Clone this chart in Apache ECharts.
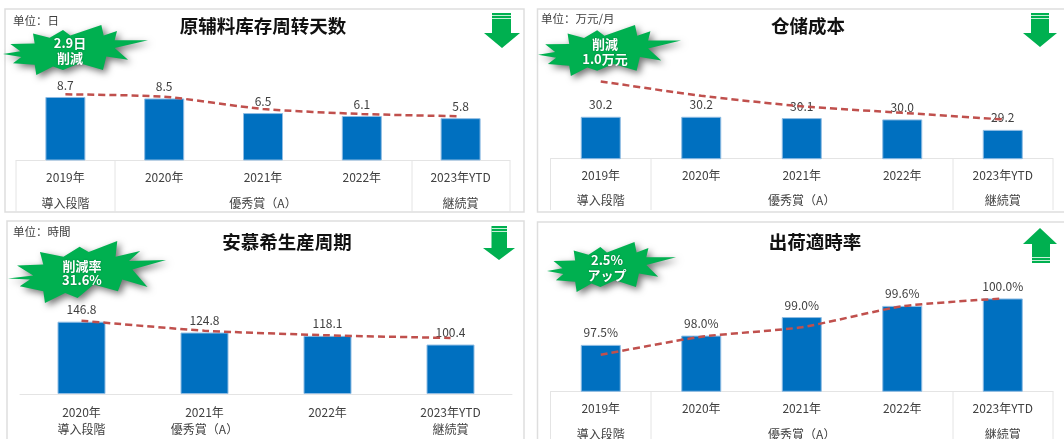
<!DOCTYPE html>
<html>
<head>
<meta charset="utf-8">
<style>html,body{margin:0;padding:0;background:#fff}#chart{width:1064px;height:439px}</style>
<script src="https://cdn.jsdelivr.net/npm/echarts@6/dist/echarts.min.js"></script>
</head>
<body>
<div id="chart"></div>
<script>
// Kaizen results board: four KPI panels, 2019–2023 YTD
const yearsFive = ['2019年', '2020年', '2021年', '2022年', '2023年YTD'];
const yearsFour = ['2020年', '2021年', '2022年', '2023年YTD'];
const stagesFive = ['導入段階', '', '優秀賞（A）', '', '継続賞'];
const stagesFour = ['導入段階', '優秀賞（A）', '', '継続賞'];

const inventoryDays = [8.7, 8.5, 6.5, 6.1, 5.8];
const inventoryTrend = [9.07, 8.74, 7.05, 6.37, 6.05];
const storageCost = [30.2, 30.2, 30.1, 30.0, 29.2];
const storageTrend = [32.9, 31.8, 31.0, 30.5, 30.0];
const cycleHours = [146.8, 124.8, 118.1, 100.4];
const cycleTrend = [148.8, 128.5, 119.2, 113.7];
const onTimeRate = [97.5, 98.0, 99.0, 99.6, 100.0];
const onTimeTrend = [96.97, 97.94, 98.45, 99.58, 100.0];

const CJK = '"Noto Sans CJK SC","Noto Sans CJK JP",sans-serif';
const INK = '#404040';
const GREEN = '#00b050';
const RULE = '#e4e4e4';
const FRAME = '#dedede';

// Badge outlines, normalised by their bounding boxes on use
const burst = [[10,103],[62,95],[32,73],[105,72],[100,42],[150,55],[190,32],[212,48],[305,17],[312,48],[352,35],[345,62],
  [445,62],[345,85],[385,120],[320,110],[310,150],[240,130],[190,150],[160,140],[110,165],[105,135],[40,130],[65,112]];
const burstWide = [[25,127],[100,118],[52,88],[130,85],[120,48],[190,62],[238,32],[265,48],[350,15],[345,62],[418,45],[385,75],
  [495,72],[395,100],[440,152],[365,130],[352,165],[280,145],[232,185],[195,170],[135,200],[130,165],[60,150],[90,130]];

const panels = [
  { title: '原辅料库存周转天数', titleX: 263, titleY: 26, unit: '单位：日', unitX: 13, unitY: 21,
    frame: [5, 9, 519, 203],
    x: 16, w: 494, base: 160.5, h: 102.2, min: 0, max: 14, barW: 40, lh: 26, labelMargin: 4,
    cats: yearsFive, stages: stagesFive, bars: inventoryDays, trend: inventoryTrend, suffix: '',
    table: { dividers: [115, 412], bottom: 212 },
    outline: burst, star: [3, 25, 148, 75], starText: ['2.9日', '削減'], starX: 70, starY: [43, 58],
    arrow: { dir: 'down', x0: 484, x1: 520, s0: 492, s1: 511, flat: 13, head: 33, tip: 48 } },
  { title: '仓储成本', titleX: 808, titleY: 26, unit: '单位：万元/月', unitX: 541, unitY: 19,
    frame: [537.5, 9, 535, 203],
    x: 550.5, w: 502.5, base: 158.7, h: 104.8, min: 27, max: 35, barW: 40, lh: 25, labelMargin: 4,
    cats: yearsFive, stages: stagesFive, bars: storageCost, trend: storageTrend, suffix: '',
    table: { dividers: [651, 953], bottom: 210 },
    outline: burst, star: [538, 25, 681, 76], starText: ['削減', '1.0万元'], starX: 605, starY: [44, 59],
    arrow: { dir: 'down', x0: 1023, x1: 1057, s0: 1031, s1: 1049, flat: 13, head: 33, tip: 47 } },
  { title: '安慕希生産周期', titleX: 287, titleY: 242, unit: '单位：時間', unitX: 13, unitY: 232,
    frame: [7, 221, 517, 230],
    x: 20, w: 492, base: 394, h: 98.5, min: 0, max: 200, barW: 48, lh: 17, labelMargin: 10,
    cats: yearsFour, stages: stagesFour, bars: cycleHours, trend: cycleTrend, suffix: '',
    table: null,
    outline: burstWide, star: [8, 241, 166, 303], starText: ['削減率', '31.6%'], starX: 82, starY: [266, 280],
    arrow: { dir: 'down', x0: 483, x1: 515, s0: 491.5, s1: 507, flat: 226, head: 248, tip: 260 } },
  { title: '出荷適時率', titleX: 815, titleY: 242, unit: '', unitX: 0, unitY: 0,
    frame: [537.5, 222, 535, 230],
    x: 550.5, w: 502.5, base: 391.3, h: 111.4, min: 95, max: 101, barW: 40, lh: 26, labelMargin: 4,
    cats: yearsFive, stages: stagesFive, bars: onTimeRate, trend: onTimeTrend, suffix: '%',
    table: { dividers: [651, 953], bottom: 439 },
    outline: burst, star: [547, 242, 676, 292], starText: ['2.5%', 'アップ'], starX: 607, starY: [260, 275],
    arrow: { dir: 'up', x0: 1023, x1: 1057, s0: 1032, s1: 1050, flat: 263, head: 244, tip: 228 } }
];

function burstPoints(outline, [l, t, r, b]) {
  const xs = outline.map(q => q[0]), ys = outline.map(q => q[1]);
  const minX = Math.min(...xs), maxX = Math.max(...xs), minY = Math.min(...ys), maxY = Math.max(...ys);
  return outline.map(([px, py]) => [l + (px - minX) / (maxX - minX) * (r - l), t + (py - minY) / (maxY - minY) * (b - t)]);
}

function arrowShapes(a) {
  const shapes = [{
    type: 'polygon', z: 20,
    shape: { points: [[a.s0, a.flat], [a.s1, a.flat], [a.s1, a.head], [a.x1, a.head], [(a.x0 + a.x1) / 2, a.tip], [a.x0, a.head], [a.s0, a.head]] },
    style: { fill: GREEN }
  }];
  const sign = a.dir === 'down' ? 1 : -1;
  [2.5, 5.5].forEach(off => shapes.push({
    type: 'line', z: 21,
    shape: { x1: a.s0, x2: a.s1, y1: a.flat + sign * off, y2: a.flat + sign * off },
    style: { stroke: '#c8f0d8', lineWidth: 1 }
  }));
  return shapes;
}

const graphic = [];
const grid = [], xAxis = [], yAxis = [], series = [], title = [];

panels.forEach((p, i) => {
  graphic.push({ type: 'rect', z: 0, shape: { x: p.frame[0], y: p.frame[1], width: p.frame[2], height: p.frame[3] },
    style: { fill: 'transparent', stroke: FRAME, lineWidth: 1.5 } });

  if (p.table) {
    const t = p.table;
    [p.x, t.dividers[0], t.dividers[1], p.x + p.w].forEach(x => graphic.push({
      type: 'line', z: 1, shape: { x1: x, x2: x, y1: p.base, y2: t.bottom }, style: { stroke: RULE, lineWidth: 1 } }));
  }

  graphic.push({ type: 'polygon', z: 20, shape: { points: burstPoints(p.outline, p.star) },
    style: { fill: GREEN, shadowBlur: 7, shadowColor: 'rgba(0,0,0,0.55)', shadowOffsetX: 3, shadowOffsetY: 3 } });
  p.starText.forEach((s, k) => graphic.push({ type: 'text', z: 22, x: p.starX, y: p.starY[k],
    style: { text: s, fill: '#fff', font: 'bold 13px ' + CJK, align: 'center', verticalAlign: 'middle',
      textShadowBlur: 2, textShadowColor: 'rgba(0,0,0,0.35)' } }));
  graphic.push(...arrowShapes(p.arrow));

  if (p.unit) {
    graphic.push({ type: 'text', z: 22, x: p.unitX, y: p.unitY,
      style: { text: p.unit, fill: INK, font: '11.5px ' + CJK, verticalAlign: 'middle' } });
  }

  title.push({ text: p.title, left: p.titleX, top: p.titleY, textAlign: 'center', textVerticalAlign: 'middle',
    padding: 0, textStyle: { fontFamily: CJK, fontWeight: 'bold', fontSize: 18.5, color: '#111' } });

  grid.push({ left: p.x, width: p.w, top: p.base - p.h, height: p.h, outerBoundsMode: 'none' });
  xAxis.push({
    type: 'category', gridIndex: i, data: p.cats,
    axisLine: { lineStyle: { color: RULE, width: 1 } },
    axisTick: { show: false },
    axisLabel: { color: INK, fontFamily: CJK, fontSize: 12, interval: 0, lineHeight: p.lh, margin: p.labelMargin,
      formatter: (v, idx) => v + '\n' + p.stages[idx] }
  });
  yAxis.push({ type: 'value', gridIndex: i, min: p.min, max: p.max, show: false, splitLine: { show: false } });

  series.push({
    type: 'bar', xAxisIndex: i, yAxisIndex: i, data: p.bars, barWidth: p.barW, z: 3,
    itemStyle: { color: '#0070c0', borderColor: '#8fbce3', borderWidth: 1 },
    label: { show: true, position: 'top', distance: 6, color: INK, fontFamily: CJK, fontSize: 12,
      formatter: d => d.value.toFixed(1) + p.suffix }
  });
  series.push({
    type: 'line', xAxisIndex: i, yAxisIndex: i, data: p.trend, symbol: 'none', smooth: 0.2, z: 4,
    lineStyle: { color: '#c0504d', width: 2.5, type: [7, 4] }
  });
});

const chart = echarts.init(document.getElementById('chart'), null, { renderer: 'canvas' });
chart.setOption({ animation: false, backgroundColor: '#fff', title, grid, xAxis, yAxis, series, graphic });
</script>
</body>
</html>
